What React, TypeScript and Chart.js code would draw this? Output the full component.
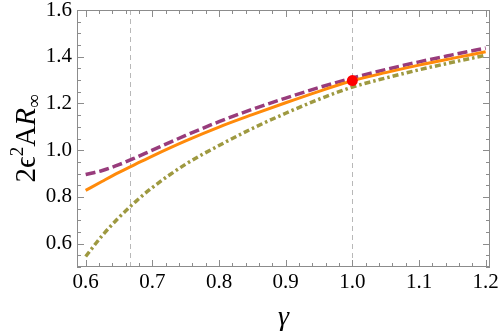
import React, { useEffect, useRef } from "react";
import { Chart, registerables } from "chart.js";

Chart.register(...registerables);

// ---- data ----
const gammaValues = [0.6, 0.625, 0.65, 0.675, 0.7, 0.75, 0.8, 0.85, 0.9, 0.95, 1.0, 1.05, 1.1, 1.15, 1.2];
const orangeValues = [0.828, 0.867, 0.905, 0.94, 0.975, 1.04, 1.099, 1.152, 1.203, 1.252, 1.297, 1.332, 1.364, 1.393, 1.421];
const purpleValues = [0.896, 0.913, 0.938, 0.968, 1.0, 1.063, 1.122, 1.175, 1.223, 1.268, 1.309, 1.345, 1.378, 1.408, 1.437];
const oliveValues = [0.545, 0.635, 0.712, 0.78, 0.84, 0.94, 1.02, 1.093, 1.158, 1.218, 1.27, 1.309, 1.344, 1.376, 1.406];
const markerGamma = [1.0];
const markerValue = [1.298];
const gridLinesX = [2 / 3, 1.0];
const xTickValues = [0.6, 0.7, 0.8, 0.9, 1.0, 1.1, 1.2];
const yTickValues = [0.6, 0.8, 1.0, 1.2, 1.4, 1.6];
const xMinorStep = 0.02;
const yMinorStep = 0.05;

const SERIF = "'Liberation Serif', 'Times New Roman', serif";
const FRAME = "#8c8c8c";

const decorPlugin = {
  id: "decor",
  beforeDatasetsDraw(chart: any) {
    const { ctx, chartArea, scales } = chart;
    ctx.save();
    ctx.strokeStyle = "#b8b8b8";
    ctx.lineWidth = 1;
    ctx.setLineDash([5, 4]);
    for (const g of gridLinesX) {
      const px = Math.round(scales.x.getPixelForValue(g)) + 0.5;
      ctx.beginPath();
      ctx.moveTo(px, chartArea.top);
      ctx.lineTo(px, chartArea.bottom);
      ctx.stroke();
    }
    ctx.restore();
  },
  afterDatasetsDraw(chart: any) {
    const { ctx, chartArea, scales } = chart;
    const { left, right, top, bottom } = chartArea;
    ctx.save();
    ctx.strokeStyle = FRAME;
    ctx.lineWidth = 1;
    ctx.setLineDash([]);
    ctx.strokeRect(left + 0.5, top + 0.5, right - left - 1, bottom - top - 1);
    const isMajor = (v: number, arr: number[]) => arr.some((a) => Math.abs(a - v) < 1e-6);
    for (let i = 0; ; i++) {
      const v = 0.6 + i * xMinorStep;
      if (v > scales.x.max + 1e-9) break;
      const px = Math.round(scales.x.getPixelForValue(v)) + 0.5;
      const len = isMajor(v, xTickValues) ? 7 : 4;
      ctx.beginPath();
      ctx.moveTo(px, bottom);
      ctx.lineTo(px, bottom - len);
      ctx.moveTo(px, top);
      ctx.lineTo(px, top + len);
      ctx.stroke();
    }
    for (let i = 0; ; i++) {
      const v = 0.5 + i * yMinorStep;
      if (v > scales.y.max + 1e-9) break;
      const py = Math.round(scales.y.getPixelForValue(v)) + 0.5;
      const len = isMajor(v, yTickValues) ? 7 : 4;
      ctx.beginPath();
      ctx.moveTo(left, py);
      ctx.lineTo(left + len, py);
      ctx.moveTo(right, py);
      ctx.lineTo(right - len, py);
      ctx.stroke();
    }
    ctx.restore();
  },
  afterDraw(chart: any) {
    const { ctx, chartArea } = chart;
    ctx.save();
    ctx.fillStyle = "#000";
    // x title
    ctx.font = `italic 28px ${SERIF}`;
    ctx.textAlign = "center";
    ctx.textBaseline = "alphabetic";
    ctx.fillText("γ", (chartArea.left + chartArea.right) / 2, 325);
    // y title
    const parts = [
      { t: "2ϵ", f: `29px ${SERIF}`, dy: 0 },
      { t: "2", f: `19px ${SERIF}`, dy: -12 },
      { t: "A", f: `29px ${SERIF}`, dy: 0 },
      { t: "R", f: `italic 29px ${SERIF}`, dy: 0 },
      { t: "∞", f: `19px ${SERIF}`, dy: 5 },
    ];
    let total = 0;
    const widths = parts.map((p) => {
      ctx.font = p.f;
      const w = ctx.measureText(p.t).width;
      total += w;
      return w;
    });
    ctx.translate(35, (chartArea.top + chartArea.bottom) / 2);
    ctx.rotate(-Math.PI / 2);
    ctx.textAlign = "left";
    let x = -total / 2;
    parts.forEach((p, i) => {
      ctx.font = p.f;
      ctx.fillText(p.t, x, p.dy);
      x += widths[i];
    });
    ctx.restore();
  },
};

export default function App() {
  const canvasRef = useRef<HTMLCanvasElement | null>(null);

  useEffect(() => {
    if (!canvasRef.current) return;
    const toPts = (ys: number[]) => gammaValues.map((g, i) => ({ x: g, y: ys[i] }));
    const chart = new Chart(canvasRef.current, {
      type: "line",
      data: {
        datasets: [
          {
            data: markerGamma.map((g, i) => ({ x: g, y: markerValue[i] })),
            showLine: false,
            pointRadius: 5.5,
            pointBackgroundColor: "#ff0000",
            pointBorderWidth: 0,
            borderColor: "#ff0000",
            order: 0,
          },
          {
            data: toPts(orangeValues),
            borderColor: "#ff8a0a",
            borderWidth: 3,
            pointRadius: 0,
            cubicInterpolationMode: "monotone",
            order: 1,
          },
          {
            data: toPts(purpleValues),
            borderColor: "#983c7c",
            borderWidth: 3.5,
            borderDash: [10, 4],
            pointRadius: 0,
            cubicInterpolationMode: "monotone",
            order: 2,
          },
          {
            data: toPts(oliveValues),
            borderColor: "#9e9940",
            borderWidth: 3.5,
            borderDash: [6, 3, 2.5, 3],
            pointRadius: 0,
            cubicInterpolationMode: "monotone",
            order: 3,
          },
        ],
      } as any,
      options: {
        responsive: false,
        animation: false,
        layout: { padding: { top: 10, right: 8, left: 0, bottom: 0 } },
        plugins: { legend: { display: false }, tooltip: { enabled: false } },
        scales: {
          x: {
            type: "linear",
            min: 0.587,
            max: 1.2065,
            grid: { display: false, drawTicks: false },
            border: { display: false },
            afterBuildTicks: (s: any) => {
              s.ticks = xTickValues.map((v) => ({ value: v }));
            },
            afterFit: (s: any) => {
              s.height = 66;
              s.paddingLeft = 0;
              s.paddingRight = 0;
            },
            ticks: {
              font: { family: SERIF, size: 21 },
              color: "#000",
              padding: 3,
              maxRotation: 0,
              autoSkip: false,
              callback: (v: any) => Number(v).toFixed(1),
            },
          },
          y: {
            type: "linear",
            min: 0.5,
            max: 1.6,
            grid: { display: false, drawTicks: false },
            border: { display: false },
            afterBuildTicks: (s: any) => {
              s.ticks = yTickValues.map((v) => ({ value: v }));
            },
            afterFit: (s: any) => {
              s.width = 77;
              s.paddingTop = 0;
              s.paddingBottom = 0;
            },
            ticks: {
              font: { family: SERIF, size: 21 },
              color: "#000",
              padding: 5,
              autoSkip: false,
              callback: (v: any) => Number(v).toFixed(1),
            },
          },
        },
      } as any,
      plugins: [decorPlugin],
    });
    return () => chart.destroy();
  }, []);

  return (
    <div style={{ position: "fixed", left: 0, top: 0, width: 498, height: 333, background: "#fff" }}>
      <canvas ref={canvasRef} width={498} height={333} style={{ width: 498, height: 333, display: "block" }} />
    </div>
  );
}
